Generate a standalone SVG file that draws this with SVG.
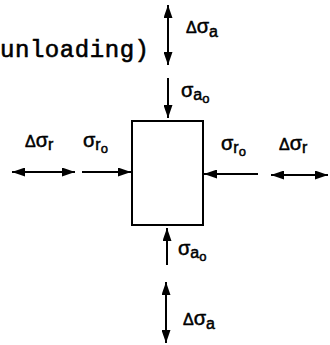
<svg xmlns="http://www.w3.org/2000/svg" width="330" height="345" viewBox="0 0 330 345">
<style>
.ln{stroke:#000;stroke-width:2;fill:none}
.lab{font-family:"Liberation Sans",Arial,sans-serif;fill:#000;stroke:#000;stroke-width:0.5;font-size:20px}
.d{font-size:16px}
.s1{font-size:16px}
.s2{font-size:13px}
.mono{font-family:"Liberation Mono","Courier New",monospace;font-size:24px;fill:#000;stroke:#000;stroke-width:0.6}
</style>
<defs>
<marker id="ah" viewBox="0 0 13 9" refX="13" refY="4.5" markerWidth="13" markerHeight="9" markerUnits="userSpaceOnUse" orient="auto-start-reverse">
<path d="M0,0 L13,4.5 L0,9 z" fill="#000"/>
</marker>
</defs>
<rect width="330" height="345" fill="#fff"/>
<text class="mono" x="0" y="57" textLength="149" lengthAdjust="spacing">unloading)</text>
<g id="block">
<rect x="132" y="121" width="71" height="104" class="ln"/>
</g>
<g id="connectors">
<line class="ln" x1="168" y1="5" x2="168" y2="65" marker-start="url(#ah)" marker-end="url(#ah)"/>
<line class="ln" x1="168" y1="78" x2="168" y2="118" marker-end="url(#ah)"/>
<line class="ln" x1="167" y1="265" x2="167" y2="228" marker-end="url(#ah)"/>
<line class="ln" x1="166" y1="282" x2="166" y2="343" marker-start="url(#ah)" marker-end="url(#ah)"/>
<line class="ln" x1="12" y1="172" x2="75" y2="172" marker-start="url(#ah)" marker-end="url(#ah)"/>
<line class="ln" x1="82" y1="172" x2="131" y2="172" marker-end="url(#ah)"/>
<line class="ln" x1="258" y1="174" x2="204" y2="174" marker-end="url(#ah)"/>
<line class="ln" x1="271" y1="175" x2="328" y2="175" marker-start="url(#ah)" marker-end="url(#ah)"/>
</g>
<g id="labels">
<text class="lab" x="186" y="33"><tspan class="d">Δ</tspan>σ<tspan class="s1" dy="4">a</tspan></text>
<text class="lab" x="181" y="97">σ<tspan class="s1" dy="3">a</tspan><tspan class="s2" dy="3">o</tspan></text>
<text class="lab" x="25" y="147"><tspan class="d">Δ</tspan>σ<tspan class="s1" dy="3">r</tspan></text>
<text class="lab" x="83" y="147">σ<tspan class="s1" dy="3">r</tspan><tspan class="s2" dy="3">o</tspan></text>
<text class="lab" x="221" y="150">σ<tspan class="s1" dy="3">r</tspan><tspan class="s2" dy="3">o</tspan></text>
<text class="lab" x="279" y="150"><tspan class="d">Δ</tspan>σ<tspan class="s1" dy="3">r</tspan></text>
<text class="lab" x="178" y="255">σ<tspan class="s1" dy="3">a</tspan><tspan class="s2" dy="3">o</tspan></text>
<text class="lab" x="183" y="325"><tspan class="d">Δ</tspan>σ<tspan class="s1" dy="4">a</tspan></text>
</g>
</svg>
